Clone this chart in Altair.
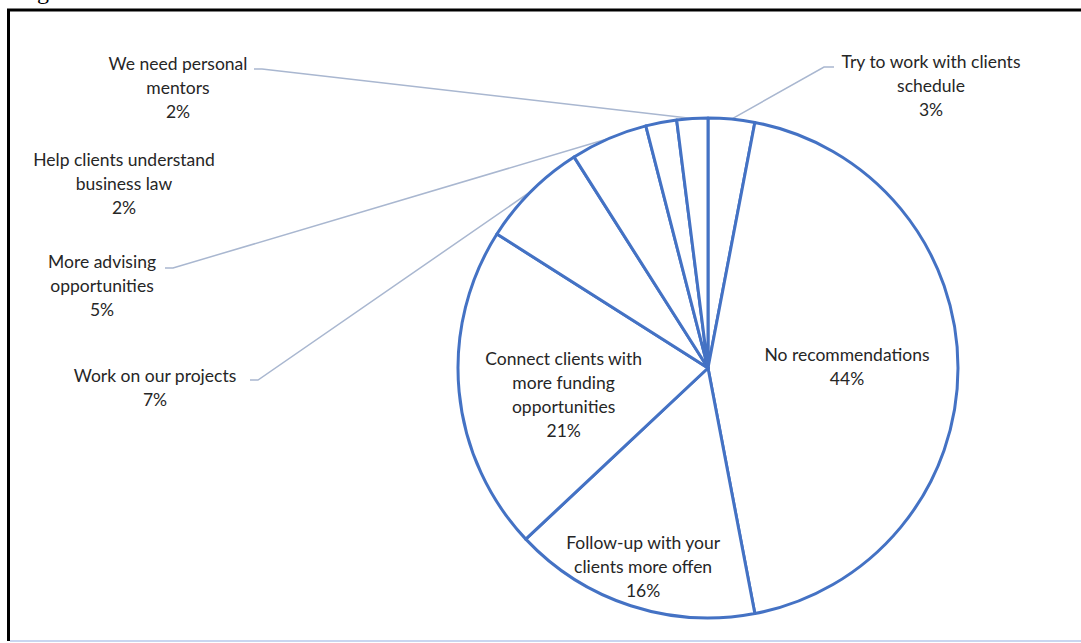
import math
import altair as alt
import pandas as pd

# ---- data ----
categories = [
    "Try to work with clients schedule",
    "No recommendations",
    "Follow-up with your clients more offen",
    "Connect clients with more funding opportunities",
    "Work on our projects",
    "More advising opportunities",
    "Help clients understand business law",
    "We need personal mentors",
]
label_lines = [
    ["Try to work with  clients", "schedule"],
    ["No recommendations"],
    ["Follow-up  with  your", "clients  more offen"],
    ["Connect  clients  with", "more funding", "opportunities"],
    ["Work on our projects"],
    ["More advising", "opportunities"],
    ["Help clients  understand", "business  law"],
    ["We need  personal", "mentors"],
]
percents = [3, 44, 16, 21, 7, 5, 2, 2]

# ---- layout (pixels) ----
W, H = 1081, 643
CX, CY, R = 708, 368, 250
LH = 24
inner_radius = {1: 139, 2: 210, 3: 145}
inner_nudge_y = {1: 0, 2: 0, 3: 14}
# centre of the whole text block for the outside labels
outer_pos = {0: (931, 87), 4: (155, 389), 5: (102, 287), 6: (124, 185), 7: (178, 89)}
leader_start = {0: (834, 67, -10), 4: (250, 380, 8), 5: (165, 268, 8), 7: (254, 69, 8)}

FONT = "Lato"
FS = 17.5
TXT = "#262626"
BLUE = "#4472C4"
LEADER = "#A9B7D0"

texts = ["\n".join(lines + [f"{p}%"]) for lines, p in zip(label_lines, percents)]
nlines = [len(lines) + 1 for lines in label_lines]

df = pd.DataFrame({
    "category": categories,
    "pct": percents,
    "idx": list(range(len(categories))),
})

# slice mid-angles from the data (clockwise from 12 o'clock)
total = sum(percents)
cum = 0
mid = []
for p in percents:
    mid.append((cum + p / 2) / total * 2 * math.pi)
    cum += p

label_rows = []
for i, (x, y) in outer_pos.items():
    label_rows.append({"tx": x, "ty": y - (nlines[i] - 1) * LH / 2, "text": texts[i]})
for i, r in inner_radius.items():
    label_rows.append({"tx": CX + r * math.sin(mid[i]),
                       "ty": CY - r * math.cos(mid[i]) - (nlines[i] - 1) * LH / 2
                       + inner_nudge_y[i],
                       "text": texts[i]})
label_df = pd.DataFrame(label_rows)

lead_rows = []
for i, (sx, sy, dx) in leader_start.items():
    ax = CX + R * math.sin(mid[i])
    ay = CY - R * math.cos(mid[i])
    for k, (px, py) in enumerate([(sx, sy), (sx + dx, sy), (ax, ay)]):
        lead_rows.append({"cat": categories[i], "k": k, "px": px, "py": py})
lead_df = pd.DataFrame(lead_rows)

one = pd.DataFrame({"a": [0]})

border = alt.layer(
    alt.Chart(one).mark_rule(color="black", strokeWidth=3).encode(
        x=alt.value(7), x2=alt.value(W), y=alt.value(10)),
    alt.Chart(one).mark_rule(color="black", strokeWidth=3).encode(
        x=alt.value(8.5), y=alt.value(9), y2=alt.value(641)),
    alt.Chart(one).mark_rule(color="#C9D6F0", strokeWidth=2).encode(
        x=alt.value(10), x2=alt.value(W), y=alt.value(641)),
)

caption = alt.Chart(one).mark_text(
    text="Figure", font="Liberation Serif", fontSize=24, align="left",
    baseline="alphabetic", color="black").encode(x=alt.value(17), y=alt.value(-1))

arc = alt.Chart(df).mark_arc(
    outerRadius=R, stroke=BLUE, strokeWidth=3, fill="white", strokeJoin="round"
).encode(
    theta=alt.Theta("pct:Q", stack=True),
    order=alt.Order("idx:Q"),
    x=alt.value(CX), y=alt.value(CY),
)

leaders = alt.Chart(lead_df).mark_line(color=LEADER, strokeWidth=1.5).encode(
    x=alt.X("px:Q", scale=None, axis=None),
    y=alt.Y("py:Q", scale=None, axis=None),
    detail="cat:N",
    order="k:Q",
)

labels = alt.Chart(label_df).mark_text(
    lineBreak="\n", font=FONT, fontSize=FS, color=TXT, lineHeight=LH,
    align="center", baseline="middle",
).encode(
    x=alt.X("tx:Q", scale=None, axis=None),
    y=alt.Y("ty:Q", scale=None, axis=None),
    text="text:N",
)

chart = alt.layer(border, caption, leaders, arc, labels).properties(
    width=W, height=H, padding=0, autosize="none", background="white"
).configure_view(stroke=None)

chart.save("out.html", embed_options={"renderer": "svg", "actions": False})
